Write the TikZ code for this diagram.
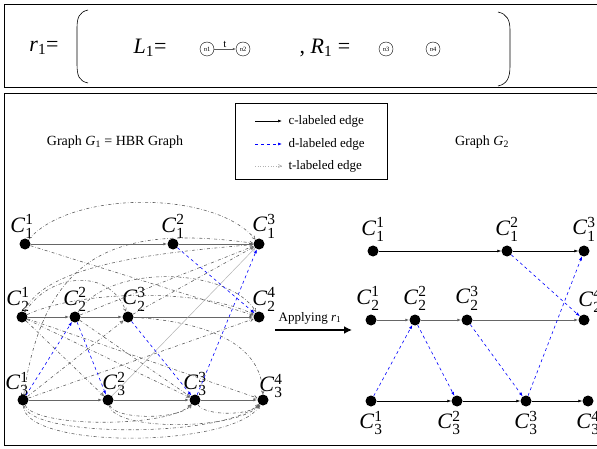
\documentclass[tikz,border=0pt]{standalone}
\usepackage{fontspec}
\setmainfont{Liberation Serif}
\usepackage{amsmath}
\usetikzlibrary{arrows.meta}

\newcommand{\cname}[2]{\textit{C}$^{\text{#2}}_{\text{#1}}$}

\tikzset{
  dot/.style={circle, fill=black, inner sep=0pt, minimum size=11pt},
  lbl/.style={font=\fontsize{22}{24}\selectfont, inner sep=0pt},
  rnode/.style={circle, draw, thin, inner sep=0pt, minimum size=14pt, font=\fontsize{6.5}{7}\selectfont},
  cedge/.style={-{Latex[length=4pt,width=3pt]}, black, semithick},
  cgray/.style={-{Latex[length=4pt,width=3pt]}, gray!80!black, thick},
  dedge/.style={-{Latex[length=4pt,width=3pt]}, blue, dashed, semithick},
  tedge/.style={-{Straight Barb[length=3pt,width=3pt]}, gray!75!black, dash dot, line width=0.6pt},
  tthin/.style={-{Straight Barb[length=3pt,width=3pt]}, gray!60, line width=0.5pt},
}

\begin{document}
\begin{tikzpicture}[x=1pt, y=-1pt]
        \useasboundingbox (0,0) rectangle (597,449);
        \clip (0,0) rectangle (597,449);

        % Rule r1 (top box)
        \draw[thick] (4,4) rectangle (605,87);
        \node[font=\fontsize{22}{24}\selectfont] (rname) at (44,48) {\textit{r}\textsubscript{1}=};
        \draw[semithick] (88,10) .. controls (79,12) and (77,18) .. (77,28) -- (77,64) .. controls (77,76) and (79,81) .. (88,83);
        \draw[semithick] (498,12) .. controls (507,14) and (510,20) .. (510,30) -- (510,66) .. controls (510,78) and (507,84) .. (498,86);
        \node[font=\fontsize{22}{24}\selectfont] (lname) at (150,48) {\textit{L}\textsubscript{1}=};
        \node[rnode] (n1) at (207,49) {\textit{n}1};
        \node[rnode] (n2) at (243,49) {\textit{n}2};
        \draw[-{Latex[length=3pt,width=2.5pt]}, gray!70!black, semithick] (n1) -- node[above, font=\fontsize{11}{11}\selectfont, black, inner sep=1pt] (tlab) {t} (n2);
        \node[font=\fontsize{22}{24}\selectfont] (rhs) at (325,48) {, \textit{R}\textsubscript{1} =};
        \node[rnode] (n3) at (386,49) {\textit{n}3};
        \node[rnode] (n4) at (433,49) {\textit{n}4};

        % Graphs (bottom box)
        \draw[thick] (4,93) rectangle (605,445);
        \node[font=\fontsize{14}{16}\selectfont] (g1title) at (115,142) {Graph \textit{G}\textsubscript{1} = HBR Graph};
        \node[font=\fontsize{14}{16}\selectfont] (g2title) at (482,142) {Graph \textit{G}\textsubscript{2}};

        % Legend
        \draw[semithick] (235,103) rectangle (387,179);
        \coordinate (lc1) at (255,121); \coordinate (lc2) at (282,121);
        \coordinate (ld1) at (255,144); \coordinate (ld2) at (282,144);
        \coordinate (lt1) at (255,166); \coordinate (lt2) at (282,166);
        \draw[cedge] (lc1) -- (lc2);
        \draw[dedge] (ld1) -- (ld2);
        \draw[-{Straight Barb[length=3pt,width=3pt]}, gray!60, dotted, semithick] (lt1) -- (lt2);
        \node[anchor=west, font=\fontsize{13}{15}\selectfont] (lctext) at (285,121) {c-labeled edge};
        \node[anchor=west, font=\fontsize{13}{15}\selectfont] (ldtext) at (285,144) {d-labeled edge};
        \node[anchor=west, font=\fontsize{13}{15}\selectfont] (lttext) at (285,166) {t-labeled edge};

        % Graph G1
        \node[dot, label={[lbl, label distance=0pt, xshift=-3pt]above:\cname{1}{1}}] (a11) at (25,244) {};
        \node[dot, label={[lbl, label distance=0pt]above:\cname{1}{2}}] (a12) at (173,244) {};
        \node[dot, label={[lbl, label distance=0pt, xshift=5pt]above:\cname{1}{3}}] (a13) at (259,244) {};
        \node[dot, label={[lbl, label distance=0pt, xshift=-4pt]above:\cname{2}{1}}] (a21) at (22,317) {};
        \node[dot, label={[lbl, label distance=0pt]above:\cname{2}{2}}] (a22) at (75,317) {};
        \node[dot, label={[lbl, label distance=0pt, xshift=6pt]above:\cname{2}{3}}] (a23) at (128,317) {};
        \node[dot, label={[lbl, label distance=0pt, xshift=5pt]above:\cname{2}{4}}] (a24) at (259,317) {};
        \node[dot, label={[lbl, label distance=-2pt, xshift=-6pt]above:\cname{3}{1}}] (a31) at (23,400) {};
        \node[dot, label={[lbl, label distance=-2pt, xshift=6pt]above:\cname{3}{2}}] (a32) at (108,400) {};
        \node[dot, label={[lbl, label distance=-2pt]above:\cname{3}{3}}] (a33) at (195,400) {};
        \node[dot, label={[lbl, label distance=-4pt, xshift=8pt]above:\cname{3}{4}}] (a34) at (263,400) {};

        \draw[cgray] (a11) -- (a12);
        \draw[cgray] (a12) -- (a13);
        \draw[cgray] (a21) -- (a22);
        \draw[cgray] (a22) -- (a23);
        \draw[cgray] (a23) -- (a24);
        \draw[cgray] (a31) -- (a32);
        \draw[cgray] (a32) -- (a33);
        \draw[cgray] (a33) -- (a34);

        \draw[tedge] (a11) .. controls (70,190) and (215,190) .. (a13);
        \draw[tedge] (a31) .. controls (45,250) and (120,225) .. (a13);
        \draw[tedge] (a21) .. controls (45,262) and (170,252) .. (a13);
        \draw[tedge] (a22) -- (a13);
        \draw[tedge] (a23) -- (a13);
        \draw[tthin] (a32) -- (a13);
        \draw[tedge] (a11) -- (a24);
        \draw[tedge] (a21) .. controls (50,272) and (110,268) .. (a23);
        \draw[tedge] (a22) .. controls (110,262) and (230,268) .. (a24);
        \draw[tedge] (a21) .. controls (80,290) and (200,288) .. (a24);
        \draw[tedge] (a31) -- (a23);
        \draw[tedge] (a31) -- (a24);
        \draw[tedge] (a21) -- (a32);
        \draw[tedge] (a21) -- (a33);
        \draw[tedge] (a21) -- (a34);
        \draw[tedge] (a22) -- (a33);
        \draw[tedge] (a23) .. controls (210,322) and (262,345) .. (a34);
        \draw[tedge] (a31) .. controls (35,428) and (170,428) .. (a33);
        \draw[tedge] (a31) .. controls (30,438) and (225,438) .. (a34);
        \draw[tedge] (a31) .. controls (25,450) and (235,448) .. (a34);
        \draw[tedge] (a32) .. controls (115,420) and (180,420) .. (a33);
        \draw[tedge] (a32) .. controls (115,432) and (240,430) .. (a34);
        \draw[tedge] (a33) .. controls (205,416) and (250,416) .. (a34);

        \draw[dedge] (a12) -- (a24);
        \draw[dedge] (a33) -- (a13);
        \draw[dedge] (a31) -- (a22);
        \draw[dedge] (a22) -- (a32);
        \draw[dedge] (a23) -- (a33);

        % Applying r1
        \coordinate (apstart) at (275,330);
        \coordinate (apend) at (352,330);
        \draw[line width=2.5pt, -{Latex[length=8pt,width=8pt]}] (apstart) -- (apend);
        \node[font=\fontsize{13}{15}\selectfont] (aptext) at (310,318) {Applying \textit{r}\textsubscript{1}};

        % Graph G2
        \node[dot, label={[lbl, label distance=4pt]above:\cname{1}{1}}] (b11) at (373,251) {};
        \node[dot, label={[lbl, label distance=4pt]above:\cname{1}{2}}] (b12) at (507,251) {};
        \node[dot, label={[lbl, label distance=4pt]above:\cname{1}{3}}] (b13) at (584,251) {};
        \node[dot, label={[lbl, label distance=4pt, xshift=-3pt]above:\cname{2}{1}}] (b21) at (371,320) {};
        \node[dot, label={[lbl, label distance=4pt]above:\cname{2}{2}}] (b22) at (415,320) {};
        \node[dot, label={[lbl, label distance=4pt]above:\cname{2}{3}}] (b23) at (467,320) {};
        \node[dot, label={[lbl, label distance=2pt, xshift=6pt]above:\cname{2}{4}}] (b24) at (584,320) {};
        \node[dot, label={[lbl, label distance=4pt]below:\cname{3}{1}}] (b31) at (371,401) {};
        \node[dot, label={[lbl, label distance=4pt, xshift=-8pt]below:\cname{3}{2}}] (b32) at (457,401) {};
        \node[dot, label={[lbl, label distance=4pt]below:\cname{3}{3}}] (b33) at (526,401) {};
        \node[dot, label={[lbl, label distance=4pt]below:\cname{3}{4}}] (b34) at (588,401) {};

        \draw[cedge] (b11) -- (b12);
        \draw[cedge] (b12) -- (b13);
        \draw[cgray] (b21) -- (b22);
        \draw[cgray] (b22) -- (b23);
        \draw[cgray] (b23) -- (b24);
        \draw[cedge] (b31) -- (b32);
        \draw[cedge] (b32) -- (b33);
        \draw[cedge] (b33) -- (b34);

        \draw[dedge] (b12) -- (b24);
        \draw[dedge] (b33) -- (b13);
        \draw[dedge] (b31) -- (b22);
        \draw[dedge] (b22) -- (b32);
        \draw[dedge] (b23) -- (b33);
    \end{tikzpicture}
\end{document}
